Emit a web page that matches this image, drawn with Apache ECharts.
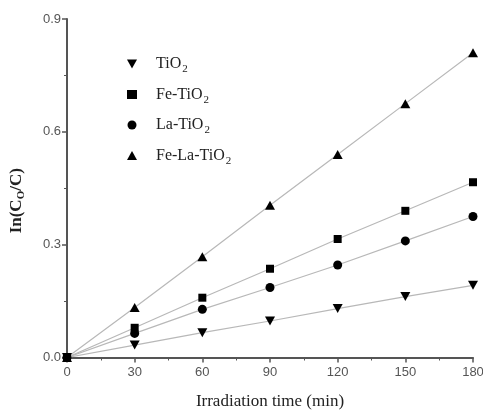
<!DOCTYPE html>
<html><head><meta charset="utf-8">
<script src="https://cdn.jsdelivr.net/npm/echarts@6/dist/echarts.min.js"></script>
<style>html,body{margin:0;padding:0;background:#fff}#c{width:483px;height:411px}</style>
</head><body><div id="c"></div>
<script>
const times = [0, 30, 60, 90, 120, 150, 180];
const tio2 = [0, 0.033, 0.066, 0.097, 0.130, 0.162, 0.192];
const feTio2 = [0, 0.079, 0.159, 0.236, 0.315, 0.390, 0.466];
const laTio2 = [0, 0.064, 0.128, 0.186, 0.246, 0.310, 0.375];
const feLaTio2 = [0, 0.133, 0.268, 0.405, 0.540, 0.675, 0.810];
const seriesNames = ['TiO2', 'Fe-TiO2', 'La-TiO2', 'Fe-La-TiO2'];
const legendLabels = {'TiO2':'TiO{s|2}','Fe-TiO2':'Fe-TiO{s|2}','La-TiO2':'La-TiO{s|2}','Fe-La-TiO2':'Fe-La-TiO{s|2}'};
const downTri = 'path://M0,0 L10,0 L5,9 Z';
const symbols = [downTri, 'rect', 'circle', 'triangle'];
const symSizes = [[10,9], 8, 9, [10,9]];
const values = [tio2, feTio2, laTio2, feLaTio2];

const chart = echarts.init(document.getElementById('c'), null, {renderer:'canvas'});
const axisFont = {fontFamily:'Liberation Sans', fontSize:13, color:'#555'};
chart.setOption({
  animation:false,
  backgroundColor:'#fff',
  grid:{left:67, right:10, top:19, bottom:53.5, containLabel:false, outerBoundsMode:'none'},
  legend:{
    orient:'vertical', left:122, top:51, itemGap:11.5, itemWidth:10, itemHeight:9,
    data: seriesNames.map((n,i)=>({name:n, icon: symbols[i]})),
    itemStyle:{color:'#000'},
    formatter: n => legendLabels[n],
    textStyle:{fontFamily:'Liberation Serif', fontSize:16, color:'#222', padding:[0,0,0,14],
      rich:{s:{fontFamily:'Liberation Serif', fontSize:11, color:'#222', padding:[11,0,0,1]}}}
  },
  xAxis:{
    type:'value', min:0, max:180, interval:30,
    name:'Irradiation time (min)', nameLocation:'middle', nameGap:36,
    nameTextStyle:{fontFamily:'Liberation Serif', fontSize:17, color:'#222'},
    axisLine:{lineStyle:{color:'#555', width:2}},
    axisTick:{length:5, lineStyle:{color:'#555', width:1.5}},
    minorTick:{show:true, splitNumber:2, length:3, lineStyle:{color:'#555'}},
    axisLabel:Object.assign({margin:8}, axisFont),
    splitLine:{show:false}
  },
  yAxis:{
    type:'value', min:0, max:0.9, interval:0.3,
    name:'In(C{s|O}/C)', nameLocation:'middle', nameGap:40,
    nameTextStyle:{fontFamily:'Liberation Serif', fontSize:17, fontWeight:'bold', color:'#222',
      padding:[0,25,0,0],
      rich:{s:{fontFamily:'Liberation Serif', fontSize:11, color:'#222', padding:[10,0,0,0]}}},
    axisLine:{show:true, lineStyle:{color:'#555', width:2}},
    axisTick:{show:true, length:5, lineStyle:{color:'#555', width:1.5}},
    minorTick:{show:true, splitNumber:2, length:3, lineStyle:{color:'#555'}},
    axisLabel:Object.assign({margin:6, formatter:v=>v.toFixed(1)}, axisFont),
    splitLine:{show:false}
  },
  series: seriesNames.map((n,i)=>({
    name:n, type:'line',
    data: times.map((t,j)=>[t, values[i][j]]),
    symbol: symbols[i], symbolSize: symSizes[i], showSymbol:true,
    itemStyle:{color:'#000'},
    lineStyle:{color:'#b8b8b8', width:1.2},
    z: 2
  }))
});
</script></body></html>
